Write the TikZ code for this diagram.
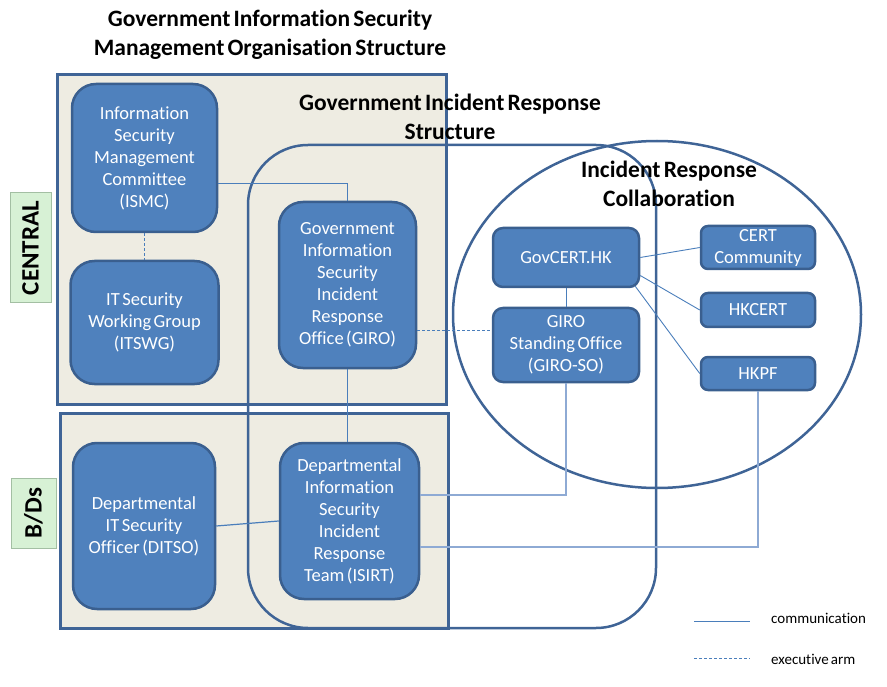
\documentclass[tikz,border=0pt]{standalone}
\usepackage{fontspec}
\setmainfont{Carlito}[Ligatures=NoCommon, WordSpace={0.6,0.2,0.2}]
\usetikzlibrary{shapes.geometric,calc}
\newcommand\myboxfont{\fontsize{18.5}{22}\selectfont}
\newcommand\myheadfont{\fontsize{23.5}{29}\selectfont\bfseries}
\newcommand\mylegendfont{\fontsize{15}{17}\selectfont}
\definecolor{boxblue}{HTML}{4F81BD}
\definecolor{boxedge}{HTML}{3A5F8F}
\definecolor{frameedge}{HTML}{3F6496}
\definecolor{beige}{HTML}{EEECE2}
\definecolor{linkblue}{HTML}{4A7EBB}
\definecolor{lightlink}{HTML}{8EAAD4}
\definecolor{greenfill}{HTML}{D7F1D5}
\definecolor{greenedge}{HTML}{A3BFA3}
\tikzset{
  orgbox/.style={draw=boxedge, fill=boxblue, line width=2.5pt, text=white, align=center, inner sep=0pt, font=\myboxfont},
  bigbox/.style={orgbox, rounded corners=24pt},
  midbox/.style={orgbox, rounded corners=10pt},
  smallbox/.style={orgbox, rounded corners=7pt},
  frame/.style={draw=frameedge, line width=3pt},
  heading/.style={align=center, font=\myheadfont, inner sep=0pt},
  sidelabel/.style={draw=greenedge, fill=greenfill, line width=1pt, rotate=90, font=\fontsize{25}{30}\selectfont\bfseries, inner sep=0pt},
  link/.style={draw=linkblue, line width=0.9pt},
  lightline/.style={draw=lightlink, line width=1.4pt},
  execlink/.style={draw=linkblue, line width=0.9pt, dash pattern=on 3pt off 2pt},
  legendtext/.style={font=\mylegendfont, anchor=west, inner sep=0pt}
}
\begin{document}
\begin{tikzpicture}[x=1pt,y=-1pt]
\useasboundingbox (0,0) rectangle (887,687);
% frames
\path[frame, fill=beige] (57,75) rectangle (446,404);
\path[frame, fill=beige] (60,413) rectangle (448,628);
\draw[frameedge, line width=2.5pt, rounded corners=60pt] (248,145) rectangle (656,628);
\draw[frameedge, line width=2.5pt] (657,314.5) ellipse [x radius=204, y radius=173.5];
% headings
\node[heading] (t1) at (270,34.5) {Government Information Security\\Management Organisation Structure};
\node[heading] (t2) at (450,117) {Government Incident Response\\Structure};
\node[heading] (t3) at (669,184) {Incident Response\\Collaboration};
% side labels
\node[sidelabel, minimum width=110pt, minimum height=41pt] (central) at (30.5,248) {CENTRAL};
\node[sidelabel, minimum width=70pt, minimum height=45pt] (bds) at (33.5,513) {B/Ds};
% boxes
\node[bigbox, minimum width=145pt, minimum height=148pt] (ismc) at (144.5,158) {Information\\Security\\Management\\Committee\\(ISMC)};
\node[bigbox, minimum width=148pt, minimum height=123pt] (itswg) at (144.5,322.5) {IT Security\\Working Group\\(ITSWG)};
\node[bigbox, minimum width=137pt, minimum height=166pt] (giro) at (347.5,285) {Government\\Information\\Security\\Incident\\Response\\Office (GIRO)};
\node[midbox, minimum width=146pt, minimum height=59pt] (govcert) at (566,257.5) {GovCERT.HK};
\node[midbox, minimum width=146pt, minimum height=74pt] (giroso) at (566,345) {GIRO\\Standing Office\\(GIRO-SO)};
\node[smallbox, minimum width=114pt, minimum height=43pt] (cert) at (758,247.5) {CERT\\Community};
\node[smallbox, minimum width=114pt, minimum height=34pt] (hkcert) at (758,310) {HKCERT};
\node[smallbox, minimum width=114pt, minimum height=33pt] (hkpf) at (758,373.5) {HKPF};
\node[bigbox, minimum width=142pt, minimum height=166pt] (ditso) at (144,526) {Departmental\\IT Security\\Officer (DITSO)};
\node[bigbox, minimum width=139pt, minimum height=156pt] (isirt) at (349.5,521) {Departmental\\Information\\Security\\Incident\\Response\\Team (ISIRT)};
% connectors
\draw[link] ([yshift=-25pt]ismc.east) -| (giro.north);
\draw[execlink] (ismc.south) -- (itswg.north);
\draw[execlink] ([yshift=-45pt]giro.east) -- ([yshift=15pt]giroso.west);
\draw[link] (giro.south) -- (giro.south |- isirt.north);
\draw[link] (govcert.south) -- (giroso.north);
\draw[link] (govcert.east) -- (cert.west);
\draw[link] ([yshift=-18pt]govcert.east) -- (hkcert.west);
\draw[link] ([xshift=-5pt,yshift=2pt]govcert.south east) -- (hkpf.west);
\draw[lightline] (giroso.south) |- ([yshift=26pt]isirt.east);
\draw[lightline] (hkpf.south) |- ([yshift=-26pt]isirt.east);
\draw[link, line width=1.2pt] (ditso.east) -- (isirt.west);
% legend
\coordinate (la) at (694,621);
\coordinate (lb) at (750,621);
\coordinate (lc) at (694,658);
\coordinate (ld) at (750,658);
\draw[link] (la) -- (lb);
\draw[execlink] (lc) -- (ld);
\node[legendtext] (lt1) at (771,618) {communication};
\node[legendtext] (lt2) at (771,659) {executive arm};
\end{tikzpicture}
\end{document}
